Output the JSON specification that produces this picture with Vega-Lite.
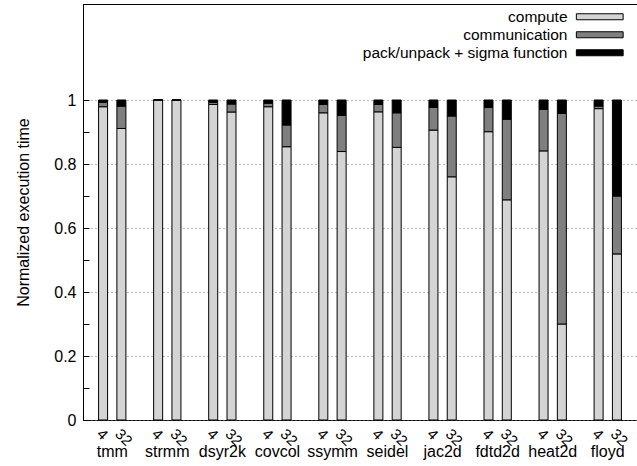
{
  "$schema": "https://vega.github.io/schema/vega-lite/v6.json",
  "width": 554,
  "height": 416,
  "autosize": {"type": "none"},
  "padding": {"left": 83, "top": 4, "right": 0, "bottom": 46},
  "background": "white",
  "config": {
    "font": "Liberation Sans",
    "view": {"stroke": "black", "strokeWidth": 1}
  },
  "data": {
    "values": [
      {"bench": "tmm", "procs": "4", "part": "compute", "value": 0.979},
      {"bench": "tmm", "procs": "4", "part": "communication", "value": 0.014},
      {"bench": "tmm", "procs": "4", "part": "pack/unpack + sigma function", "value": 0.007},
      {"bench": "tmm", "procs": "32", "part": "compute", "value": 0.911},
      {"bench": "tmm", "procs": "32", "part": "communication", "value": 0.070},
      {"bench": "tmm", "procs": "32", "part": "pack/unpack + sigma function", "value": 0.019},
      {"bench": "strmm", "procs": "4", "part": "compute", "value": 1.0},
      {"bench": "strmm", "procs": "4", "part": "communication", "value": 0.0},
      {"bench": "strmm", "procs": "4", "part": "pack/unpack + sigma function", "value": 0.0},
      {"bench": "strmm", "procs": "32", "part": "compute", "value": 1.0},
      {"bench": "strmm", "procs": "32", "part": "communication", "value": 0.0},
      {"bench": "strmm", "procs": "32", "part": "pack/unpack + sigma function", "value": 0.0},
      {"bench": "dsyr2k", "procs": "4", "part": "compute", "value": 0.986},
      {"bench": "dsyr2k", "procs": "4", "part": "communication", "value": 0.007},
      {"bench": "dsyr2k", "procs": "4", "part": "pack/unpack + sigma function", "value": 0.007},
      {"bench": "dsyr2k", "procs": "32", "part": "compute", "value": 0.9625},
      {"bench": "dsyr2k", "procs": "32", "part": "communication", "value": 0.025},
      {"bench": "dsyr2k", "procs": "32", "part": "pack/unpack + sigma function", "value": 0.0125},
      {"bench": "covcol", "procs": "4", "part": "compute", "value": 0.979},
      {"bench": "covcol", "procs": "4", "part": "communication", "value": 0.011},
      {"bench": "covcol", "procs": "4", "part": "pack/unpack + sigma function", "value": 0.010},
      {"bench": "covcol", "procs": "32", "part": "compute", "value": 0.854},
      {"bench": "covcol", "procs": "32", "part": "communication", "value": 0.068},
      {"bench": "covcol", "procs": "32", "part": "pack/unpack + sigma function", "value": 0.078},
      {"bench": "ssymm", "procs": "4", "part": "compute", "value": 0.960},
      {"bench": "ssymm", "procs": "4", "part": "communication", "value": 0.026},
      {"bench": "ssymm", "procs": "4", "part": "pack/unpack + sigma function", "value": 0.014},
      {"bench": "ssymm", "procs": "32", "part": "compute", "value": 0.839},
      {"bench": "ssymm", "procs": "32", "part": "communication", "value": 0.113},
      {"bench": "ssymm", "procs": "32", "part": "pack/unpack + sigma function", "value": 0.048},
      {"bench": "seidel", "procs": "4", "part": "compute", "value": 0.963},
      {"bench": "seidel", "procs": "4", "part": "communication", "value": 0.023},
      {"bench": "seidel", "procs": "4", "part": "pack/unpack + sigma function", "value": 0.014},
      {"bench": "seidel", "procs": "32", "part": "compute", "value": 0.852},
      {"bench": "seidel", "procs": "32", "part": "communication", "value": 0.108},
      {"bench": "seidel", "procs": "32", "part": "pack/unpack + sigma function", "value": 0.040},
      {"bench": "jac2d", "procs": "4", "part": "compute", "value": 0.906},
      {"bench": "jac2d", "procs": "4", "part": "communication", "value": 0.071},
      {"bench": "jac2d", "procs": "4", "part": "pack/unpack + sigma function", "value": 0.023},
      {"bench": "jac2d", "procs": "32", "part": "compute", "value": 0.760},
      {"bench": "jac2d", "procs": "32", "part": "communication", "value": 0.190},
      {"bench": "jac2d", "procs": "32", "part": "pack/unpack + sigma function", "value": 0.050},
      {"bench": "fdtd2d", "procs": "4", "part": "compute", "value": 0.901},
      {"bench": "fdtd2d", "procs": "4", "part": "communication", "value": 0.076},
      {"bench": "fdtd2d", "procs": "4", "part": "pack/unpack + sigma function", "value": 0.023},
      {"bench": "fdtd2d", "procs": "32", "part": "compute", "value": 0.688},
      {"bench": "fdtd2d", "procs": "32", "part": "communication", "value": 0.252},
      {"bench": "fdtd2d", "procs": "32", "part": "pack/unpack + sigma function", "value": 0.060},
      {"bench": "heat2d", "procs": "4", "part": "compute", "value": 0.841},
      {"bench": "heat2d", "procs": "4", "part": "communication", "value": 0.130},
      {"bench": "heat2d", "procs": "4", "part": "pack/unpack + sigma function", "value": 0.029},
      {"bench": "heat2d", "procs": "32", "part": "compute", "value": 0.300},
      {"bench": "heat2d", "procs": "32", "part": "communication", "value": 0.658},
      {"bench": "heat2d", "procs": "32", "part": "pack/unpack + sigma function", "value": 0.042},
      {"bench": "floyd", "procs": "4", "part": "compute", "value": 0.973},
      {"bench": "floyd", "procs": "4", "part": "communication", "value": 0.008},
      {"bench": "floyd", "procs": "4", "part": "pack/unpack + sigma function", "value": 0.019},
      {"bench": "floyd", "procs": "32", "part": "compute", "value": 0.519},
      {"bench": "floyd", "procs": "32", "part": "communication", "value": 0.181},
      {"bench": "floyd", "procs": "32", "part": "pack/unpack + sigma function", "value": 0.300}
    ]
  },
  "layer": [
    {
      "transform": [{"calculate": "indexof(['compute', 'communication', 'pack/unpack + sigma function'], datum.part)", "as": "stackIndex"}],
      "mark": {"type": "bar", "stroke": "black", "strokeWidth": 1},
      "encoding": {
        "x": {
          "field": "bench", "type": "nominal",
          "sort": ["tmm", "strmm", "dsyr2k", "covcol", "ssymm", "seidel", "jac2d", "fdtd2d", "heat2d", "floyd"],
          "scale": {"paddingInner": 0, "paddingOuter": 0.031},
          "axis": {"title": null, "ticks": false, "domain": false, "labelAngle": 0, "labelFontSize": 16, "labelPadding": 23, "labelColor": "black"}
        },
        "xOffset": {
          "field": "procs", "type": "nominal", "sort": ["4", "32"],
          "scale": {"paddingInner": 0.508, "paddingOuter": 0.758}
        },
        "y": {
          "field": "value", "type": "quantitative", "stack": "zero",
          "scale": {"domain": [0, 1.3], "nice": false},
          "axis": {
            "title": "Normalized execution time",
            "values": [0, 0.1, 0.2, 0.3, 0.4, 0.5, 0.6, 0.7, 0.8, 0.9, 1.0],
            "format": "~g",
            "labelExpr": "round(datum.value*10) % 2 == 0 ? datum.label : ''",
            "tickSize": -6,
            "tickColor": "black",
            "domainColor": "black",
            "labelPadding": 13,
            "labelColor": "black",
            "labelFontSize": 16,
            "titleFontSize": 16,
            "titleFontWeight": "normal",
            "titleColor": "black",
            "titlePadding": 22,
            "gridColor": "#777777",
            "gridDash": [1, 3],
            "gridOpacity": {"condition": {"test": "round(datum.value*10) % 2 == 1", "value": 0}, "value": 1}
          }
        },
        "order": {"field": "stackIndex", "type": "quantitative", "sort": "ascending"},
        "color": {
          "field": "part", "type": "nominal",
          "sort": ["compute", "communication", "pack/unpack + sigma function"],
          "scale": {
            "domain": ["compute", "communication", "pack/unpack + sigma function"],
            "range": ["#d4d4d4", "#7f7f7f", "#000000"]
          },
          "legend": {
            "orient": "none", "legendX": 509, "legendY": 5,
            "title": null,
            "symbolType": "M-3.9,-0.5H3.9V0.5H-3.9Z",
            "symbolSize": 144,
            "symbolStrokeColor": "black",
            "symbolStrokeWidth": 1,
            "symbolOpacity": 1,
            "labelAlign": "right",
            "labelOffset": -40,
            "labelFontSize": 15.5,
            "labelLimit": 400,
            "labelColor": "black",
            "rowPadding": 1,
            "padding": 0
          }
        }
      }
    },
    {
      "transform": [{"filter": "datum.part == 'compute'"}],
      "mark": {"type": "text", "angle": 45, "align": "left", "baseline": "top", "fontSize": 15, "dx": 5.6, "dy": 3.6, "color": "black"},
      "encoding": {
        "x": {"field": "bench", "type": "nominal", "sort": ["tmm", "strmm", "dsyr2k", "covcol", "ssymm", "seidel", "jac2d", "fdtd2d", "heat2d", "floyd"]},
        "xOffset": {"field": "procs", "type": "nominal", "sort": ["4", "32"]},
        "y": {"datum": 0},
        "text": {"field": "procs"}
      }
    }
  ]
}
